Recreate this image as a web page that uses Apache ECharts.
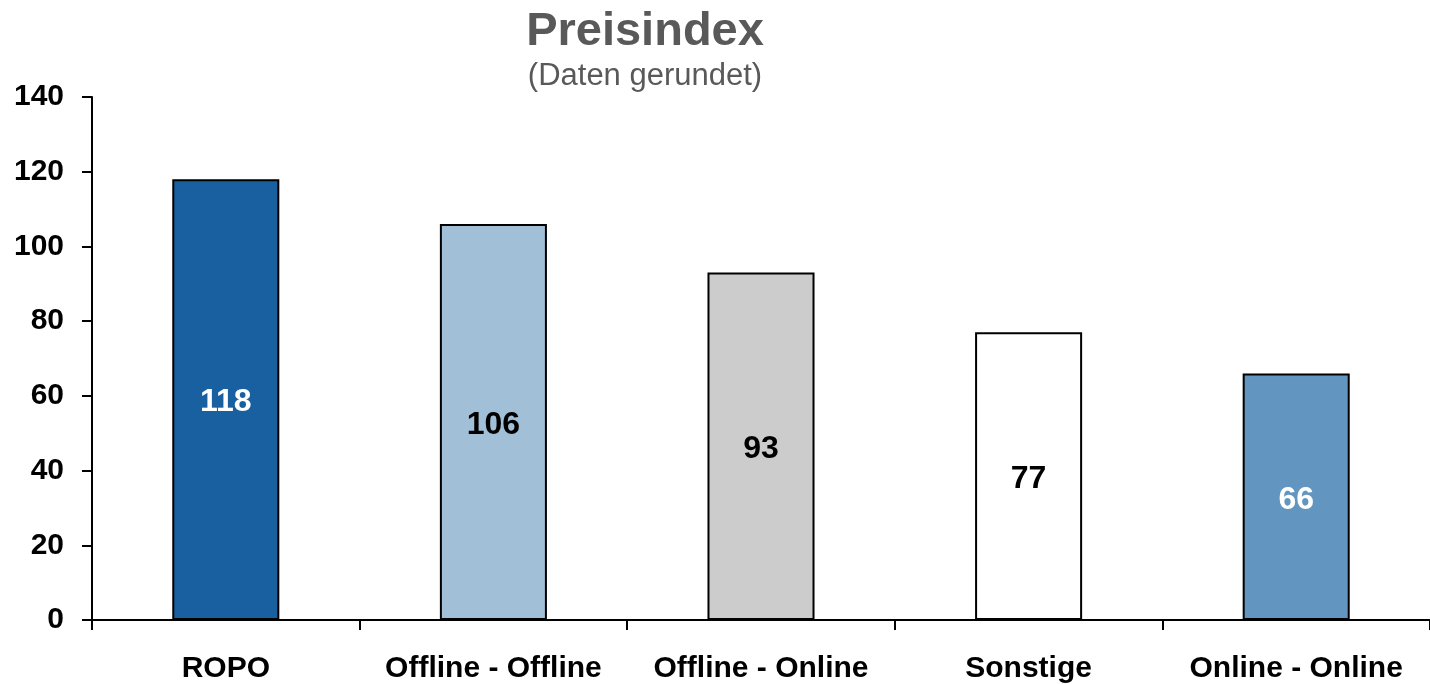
<!DOCTYPE html>
<html>
<head>
<meta charset="utf-8">
<script src="https://cdn.jsdelivr.net/npm/echarts@6/dist/echarts.min.js"></script>
<style>
  html, body { margin: 0; padding: 0; background: #fff; }
  #main { width: 1430px; height: 684px; }
</style>
</head>
<body>
<div id="main"></div>
<script>
// Daten
var categories = ['ROPO', 'Offline - Offline', 'Offline - Online', 'Sonstige', 'Online - Online'];
var values = [118, 106, 93, 77, 66];
var barColors = ['#18609F', '#A2BFD8', '#CCCCCC', '#FFFFFF', '#6296C0'];
var labelColors = ['#FFFFFF', '#000000', '#000000', '#000000', '#FFFFFF'];
var yTicks = [0, 20, 40, 60, 80, 100, 120, 140];

var chart = echarts.init(document.getElementById('main'));

var option = {
    animation: false,
    textStyle: { fontFamily: 'Liberation Sans, Arial, sans-serif' },
    title: {
        text: 'Preisindex',
        subtext: '(Daten gerundet)',
        left: 640,
        textAlign: 'center',
        top: 4,
        itemGap: 5,
        textStyle: { fontSize: 47, fontWeight: 'bold', color: '#595959', fontFamily: 'Liberation Sans, Arial, sans-serif' },
        subtextStyle: { fontSize: 31, color: '#595959', fontFamily: 'Liberation Sans, Arial, sans-serif' }
    },
    grid: { left: 92, right: -2, top: 97, bottom: 63, containLabel: false },
    xAxis: {
        type: 'category',
        data: categories,
        axisLine: { lineStyle: { color: '#000', width: 2 } },
        axisTick: { show: true, length: 10, inside: false, lineStyle: { color: '#000', width: 2 } },
        axisLabel: { color: '#000', fontSize: 30, fontWeight: 'bold', margin: 34, interval: 0 }
    },
    yAxis: {
        type: 'value',
        min: yTicks[0],
        max: yTicks[yTicks.length - 1],
        interval: 20,
        splitLine: { show: false },
        axisLine: { show: true, lineStyle: { color: '#000', width: 2 } },
        axisTick: { show: true, length: 10, lineStyle: { color: '#000', width: 2 } },
        axisLabel: { color: '#000', fontSize: 30, fontWeight: 'bold', margin: 28 }
    },
    series: [{
        type: 'bar',
        barWidth: '40%',
        data: values.map(function (v, i) {
            return {
                value: v,
                itemStyle: { color: barColors[i], borderColor: '#000', borderWidth: 2 },
                label: { color: labelColors[i] }
            };
        }),
        label: {
            show: true,
            position: 'inside',
            offset: [0, 3],
            fontSize: 32,
            fontWeight: 'bold'
        }
    }]
};

chart.setOption(option);
</script>
</body>
</html>
